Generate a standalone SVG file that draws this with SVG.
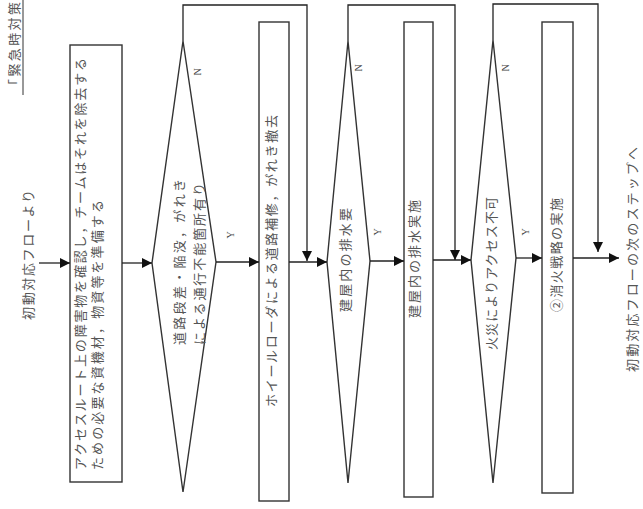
<svg xmlns="http://www.w3.org/2000/svg" width="643" height="509" viewBox="0 0 643 509">
<defs>
<style>
.shape{fill:#fff;stroke:#333;stroke-width:1.4}
.line{fill:none;stroke:#222;stroke-width:1.3}
.t{font-family:"Noto Sans CJK JP","Noto Sans",sans-serif;font-size:13px;fill:#555}
.yn{font-family:"Liberation Serif",serif;font-size:10px;fill:#444}
</style>
<marker id="ah" viewBox="0 0 10 10" refX="10" refY="5" markerWidth="10" markerHeight="10" markerUnits="userSpaceOnUse" orient="auto">
<path d="M0,0 L10,5 L0,10 z" fill="#111"/>
</marker>
</defs>
<rect width="643" height="509" fill="#fff"/>

<g id="title">
<text class="t" transform="translate(14,92) rotate(-90)" y="5" textLength="90" lengthAdjust="spacing">「緊急時対策</text>
<line x1="23" y1="0" x2="23" y2="95" stroke="#333" stroke-width="1"/>
</g>

<g id="start">
<text class="t" transform="translate(28,320) rotate(-90)" y="5" textLength="130" lengthAdjust="spacing">初動対応フローより</text>
</g>

<g id="box1">
<rect class="shape" x="70" y="45" width="52" height="437"/>
<text class="t" transform="translate(80,470) rotate(-90)" y="5" textLength="412" lengthAdjust="spacing">アクセスルート上の障害物を確認し，チームはそれを除去する</text>
<text class="t" transform="translate(97,470) rotate(-90)" y="5" textLength="270" lengthAdjust="spacing">ための必要な資機材，物資等を準備する</text>
</g>

<g id="diamond1">
<polygon class="shape" points="183,41 216,262 183,492 152,263"/>
<text class="t" transform="translate(179,345) rotate(-90)" y="5" textLength="166" lengthAdjust="spacing">道路段差・陥没，がれき</text>
<text class="t" transform="translate(199,345) rotate(-90)" y="5" textLength="162" lengthAdjust="spacing">による通行不能箇所有り</text>
</g>

<g id="box2">
<rect class="shape" x="259" y="22" width="30" height="479"/>
<text class="t" transform="translate(271,407) rotate(-90)" y="5" textLength="292" lengthAdjust="spacing">ホイールローダによる道路補修，がれき撤去</text>
</g>

<g id="diamond2">
<polygon class="shape" points="348,41 370,261 348,483 327,262"/>
<text class="t" transform="translate(345,312) rotate(-90)" y="5" textLength="104" lengthAdjust="spacing">建屋内の排水要</text>
</g>

<g id="box3">
<rect class="shape" x="404" y="22" width="29" height="475"/>
<text class="t" transform="translate(414,318) rotate(-90)" y="5" textLength="118" lengthAdjust="spacing">建屋内の排水実施</text>
</g>

<g id="diamond3">
<polygon class="shape" points="493,40 516,258 493,483 471,260"/>
<text class="t" transform="translate(491,350) rotate(-90)" y="5" textLength="153" lengthAdjust="spacing">火災によりアクセス不可</text>
</g>

<g id="box4">
<rect class="shape" x="542" y="22" width="31" height="471"/>
<text class="t" transform="translate(556,312) rotate(-90)" y="5" textLength="114" lengthAdjust="spacing">②消火戦略の実施</text>
</g>

<g id="end">
<text class="t" transform="translate(632,372) rotate(-90)" y="5" textLength="225" lengthAdjust="spacing">初動対応フローの次のステップへ</text>
</g>

<g id="connectors">
<line class="line" x1="39" y1="263" x2="70" y2="263" marker-end="url(#ah)"/>
<line class="line" x1="122" y1="263" x2="152" y2="263" marker-end="url(#ah)"/>
<line class="line" x1="216" y1="262" x2="259" y2="262" marker-end="url(#ah)"/>
<line class="line" x1="289" y1="262" x2="327" y2="262" marker-end="url(#ah)"/>
<line class="line" x1="370" y1="261" x2="404" y2="261" marker-end="url(#ah)"/>
<line class="line" x1="433" y1="260" x2="471" y2="260" marker-end="url(#ah)"/>
<line class="line" x1="516" y1="258" x2="542" y2="258" marker-end="url(#ah)"/>
<line class="line" x1="573" y1="258" x2="619" y2="258" marker-end="url(#ah)"/>
<polyline class="line" points="183,41 183,5 307,5 307,261" marker-end="url(#ah)"/>
<polyline class="line" points="348,41 348,5 455,5 455,260" marker-end="url(#ah)"/>
<polyline class="line" points="493,40 493,4 598,4 598,252" marker-end="url(#ah)"/>
<text class="yn" transform="translate(197,72) rotate(-90)" y="3.5" text-anchor="middle">N</text>
<text class="yn" transform="translate(358,68) rotate(-90)" y="3.5" text-anchor="middle">N</text>
<text class="yn" transform="translate(505,68) rotate(-90)" y="3.5" text-anchor="middle">N</text>
<text class="yn" transform="translate(230,235) rotate(-90)" y="3.5" text-anchor="middle">Y</text>
<text class="yn" transform="translate(377,232) rotate(-90)" y="3.5" text-anchor="middle">Y</text>
<text class="yn" transform="translate(525,232) rotate(-90)" y="3.5" text-anchor="middle">Y</text>
</g>
</svg>
